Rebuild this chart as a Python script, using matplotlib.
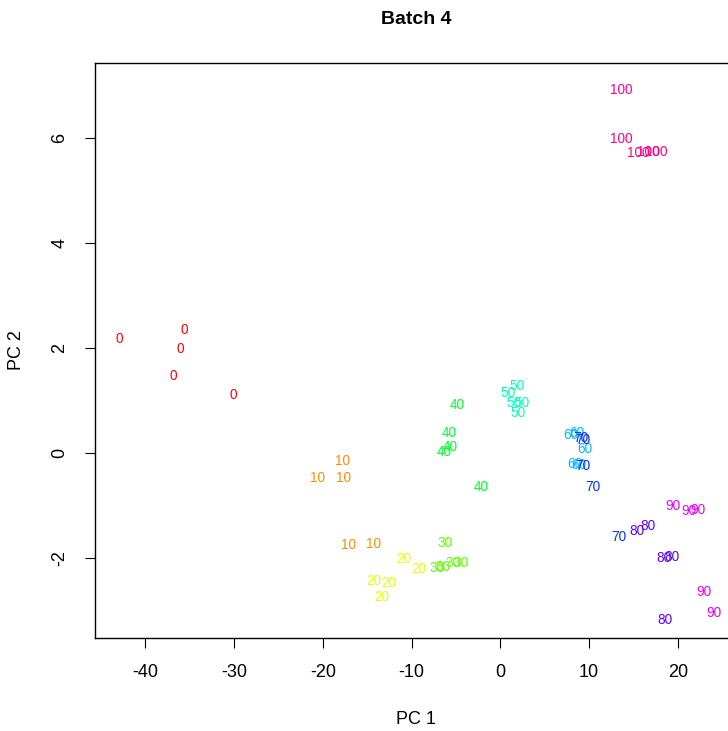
import matplotlib
matplotlib.use("Agg")
import matplotlib.pyplot as plt

# group labels (time points) and R rainbow(11) colours
groups = ['0', '10', '20', '30', '40', '50', '60', '70', '80', '90', '100']
colors = ['#FF0000', '#FF8B00', '#E8FF00', '#5DFF00', '#00FF2E', '#00FFB9',
          '#00B9FF', '#002EFF', '#5D00FF', '#E800FF', '#FF008B']

# PC1 / PC2 scores, five samples per group
pc1 = [
    [-42.9, -35.6, -36.0, -36.9, -30.1],
    [-17.8, -20.6, -17.7, -17.1, -14.3],
    [-10.9, -9.2, -14.2, -12.6, -13.3],
    [-6.2, -7.1, -6.4, -5.3, -4.4],
    [-4.9, -5.8, -5.6, -6.3, -2.1],
    [1.9, 0.9, 1.6, 2.4, 2.0],
    [7.9, 8.6, 9.5, 8.4, 8.9],
    [9.1, 9.3, 9.3, 10.4, 13.3],
    [15.4, 16.6, 18.4, 19.3, 18.5],
    [19.4, 21.2, 22.3, 22.9, 24.1],
    [13.6, 13.6, 15.6, 16.7, 17.6],
]
pc2 = [
    [2.17, 2.34, 1.98, 1.47, 1.10],
    [-0.15, -0.48, -0.47, -1.75, -1.73],
    [-2.02, -2.21, -2.44, -2.48, -2.74],
    [-1.72, -2.18, -2.17, -2.10, -2.10],
    [0.91, 0.39, 0.11, 0.03, -0.64],
    [1.28, 1.15, 0.95, 0.96, 0.77],
    [0.34, 0.38, 0.07, -0.20, -0.23],
    [0.28, 0.26, -0.25, -0.64, -1.60],
    [-1.49, -1.38, -2.00, -1.98, -3.17],
    [-1.0, -1.10, -1.08, -2.64, -3.04],
    [6.92, 5.99, 5.71, 5.73, 5.73],
]

plt.rcParams['font.family'] = ['Liberation Sans', 'DejaVu Sans']
plt.rcParams['axes.unicode_minus'] = False

fig = plt.figure(figsize=(7.28, 7.31), dpi=100)
ax = fig.add_axes([95 / 728, 93 / 731, 642 / 728, 575 / 731])

for g, col, xs, ys in zip(groups, colors, pc1, pc2):
    for x, y in zip(xs, ys):
        ax.text(x, y, g, color=col, fontsize=9.8, ha='center', va='center')

ax.set_xlim(-45.66, 26.67)
ax.set_ylim(-3.52, 7.43)
ax.set_xticks([-40, -30, -20, -10, 0, 10, 20])
ax.set_yticks([-2, 0, 2, 4, 6])
ax.tick_params(direction='out', length=7, width=0.8, labelsize=13, pad=12)
for lab in ax.get_yticklabels():
    lab.set_rotation(90)
    lab.set_va('center')
for s in ax.spines.values():
    s.set_linewidth(1)

ax.set_xlabel('PC 1', fontsize=13, labelpad=21)
ax.set_ylabel('PC 2', fontsize=13, labelpad=19)
fig.text(416 / 728, 1 - 20 / 731, 'Batch 4', fontsize=14, fontweight='bold',
         ha='center', va='center')

fig.savefig('out.png', dpi=100)
